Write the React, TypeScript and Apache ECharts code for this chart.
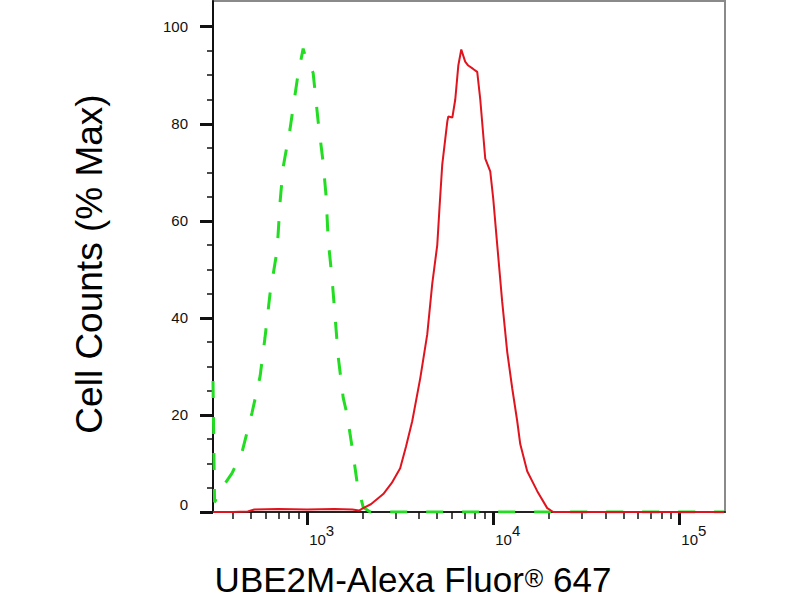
import React, { useEffect, useRef } from "react";
import * as echarts from "echarts";

// Histogram data (intensity in fluorescence units, counts in % of max)
const isotypeIntensity = [312, 318, 349, 395, 448, 506, 559, 594, 632, 690, 716, 743, 810, 884, 930, 952, 975, 1077, 1146, 1219, 1265, 1298, 1362, 1415, 1469, 1563, 1641, 1750, 1857, 2000, 2183, 5000, 20000, 174000];
const isotypeCount = [27, 2, 5, 8, 12.5, 20.5, 28, 36, 45, 54, 64, 71, 79, 89, 93.5, 95.5, 94, 90.5, 80.5, 72, 65, 56, 48, 40, 32, 23.5, 20, 13, 6, 1, 0, 0, 0, 0];

const ube2mIntensity = [312, 400, 480, 520, 700, 1000, 1400, 1750, 1900, 2000, 2200, 2565, 2850, 3162, 3400, 3670, 4055, 4420, 4702, 5003, 5150, 5322, 5667, 5738, 6031, 6252, 6492, 6735, 7068, 7340, 7800, 8204, 8519, 9062, 9640, 10000, 10510, 11170, 11890, 12650, 13460, 13970, 15230, 17240, 19510, 21020, 50000, 174000];
const ube2mCount = [0, 0, 0.1, 0.5, 0.6, 0.5, 0.6, 0.5, 0.3, 0.8, 1.6, 3.7, 6, 9, 13.5, 18.7, 27.6, 36.6, 47, 55, 63, 71.6, 80.5, 81.5, 81.3, 85, 92, 95.3, 92.8, 92, 91.3, 90.7, 85, 72.8, 70.2, 64.6, 55, 43.4, 33, 25.5, 18.7, 14, 8.4, 4.3, 0.8, 0, 0, 0];

// Axis ticks
const xMajorTicks = [1000, 10000, 100000];
const xMinorTicks = [400, 500, 600, 700, 800, 900, 2000, 3000, 4000, 5000, 6000, 7000, 8000, 9000, 20000, 30000, 40000, 50000, 60000, 70000, 80000, 90000];
const yMajorTicks = [0, 20, 40, 60, 80, 100];
const yMinorTicks = [5, 10, 15, 25, 30, 35, 45, 50, 55, 65, 70, 75, 85, 90, 95];

const xRangeMin = 312;
const xRangeMax = 176000;
const yRangeMax = 105.3;

const FONT = '"Liberation Sans", Arial, Helvetica, sans-serif';

export default function App() {
  const ref = useRef<HTMLDivElement>(null);

  useEffect(() => {
    if (!ref.current) return;
    const chart = echarts.init(ref.current, undefined, { renderer: "svg" });
    const lg = (v: number) => Math.log10(v);
    const xMin = lg(xRangeMin);
    const xMax = lg(xRangeMax);

    const option: any = {
      animation: false,
      backgroundColor: "#ffffff",
      grid: {
        left: 213,
        right: 75,
        top: 1,
        bottom: 88,
        show: true,
        borderColor: "#8a8a8a",
        borderWidth: 2,
        backgroundColor: "transparent",
      },
      xAxis: [
        {
          type: "value",
          position: "bottom",
          min: xMin,
          max: xMax,
          axisLine: { show: true, lineStyle: { color: "#222", width: 2 } },
          axisTick: {
            show: true,
            customValues: xMajorTicks.map(lg),
            length: 13,
            lineStyle: { color: "#111", width: 3 },
          },
          axisLabel: {
            show: true,
            customValues: xMajorTicks.map(lg),
            align: "left",
            margin: 20,
            padding: [0, 0, 0, 2],
            formatter: (v: number) => `{b|10}{s|${Math.round(v)}}`,
            rich: {
              b: { fontSize: 15, lineHeight: 15, fontFamily: FONT, color: "#111", verticalAlign: "bottom" },
              s: { fontSize: 15, lineHeight: 15, fontFamily: FONT, color: "#111", verticalAlign: "bottom", padding: [0, 0, 9, 0] },
            },
          },
          splitLine: { show: false },
        },
        {
          type: "value",
          position: "bottom",
          min: xMin,
          max: xMax,
          axisLine: { show: false },
          axisTick: {
            show: true,
            customValues: xMinorTicks.map(lg),
            length: 7,
            lineStyle: { color: "#111", width: 1.5 },
          },
          axisLabel: { show: false },
          splitLine: { show: false },
        },
      ],
      yAxis: [
        {
          type: "value",
          position: "left",
          min: 0,
          max: yRangeMax,
          axisLine: { show: true, lineStyle: { color: "#111", width: 2 } },
          axisTick: {
            show: true,
            customValues: yMajorTicks,
            length: 13,
            lineStyle: { color: "#111", width: 3 },
          },
          axisLabel: {
            show: true,
            customValues: yMajorTicks,
            margin: 25,
            fontSize: 15,
            fontFamily: FONT,
            color: "#111",
            formatter: (v: number) => (v === 0 ? "{z|0}" : String(v)),
            rich: {
              z: { fontSize: 15, fontFamily: FONT, color: "#111", padding: [0, 0, 15, 0] },
            },
          },
          splitLine: { show: false },
        },
        {
          type: "value",
          position: "left",
          min: 0,
          max: yRangeMax,
          axisLine: { show: false },
          axisTick: {
            show: true,
            customValues: yMinorTicks,
            length: 6,
            lineStyle: { color: "#111", width: 1.5 },
          },
          axisLabel: { show: false },
          splitLine: { show: false },
        },
      ],
      series: [
        {
          name: "Isotype",
          type: "line",
          xAxisIndex: 0,
          yAxisIndex: 0,
          showSymbol: false,
          symbol: "none",
          data: isotypeIntensity.map((v, i) => [lg(v), isotypeCount[i]]),
          lineStyle: { color: "#22dd22", width: 3, type: [17, 19] },
          z: 3,
        },
        {
          name: "UBE2M",
          type: "line",
          xAxisIndex: 0,
          yAxisIndex: 0,
          showSymbol: false,
          symbol: "none",
          data: ube2mIntensity.map((v, i) => [lg(v), ube2mCount[i]]),
          lineStyle: { color: "#e0141e", width: 2 },
          z: 4,
        },
      ],
      graphic: [
        {
          type: "text",
          x: 89,
          y: 264,
          rotation: Math.PI / 2,
          style: {
            text: "Cell Counts (% Max)",
            fontSize: 37,
            fontFamily: FONT,
            fill: "#000",
            align: "center",
            verticalAlign: "middle",
          },
        },
        {
          type: "text",
          x: 413,
          y: 579,
          style: {
            text: "{a|UBE2M-Alexa Fluor}{r|®}{a| 647}",
            align: "center",
            verticalAlign: "middle",
            fill: "#000",
            rich: {
              a: { fontSize: 35, lineHeight: 28, fontFamily: FONT, fill: "#000", verticalAlign: "middle" },
              r: { fontSize: 25, lineHeight: 22, fontFamily: FONT, fill: "#000", verticalAlign: "top", padding: [0, 0, 0, 1] },
            },
          },
        },
      ],
    };

    chart.setOption(option);
    return () => chart.dispose();
  }, []);

  return (
    <div
      ref={ref}
      style={{ position: "absolute", left: 0, top: 0, width: 800, height: 600, background: "#fff" }}
    />
  );
}
